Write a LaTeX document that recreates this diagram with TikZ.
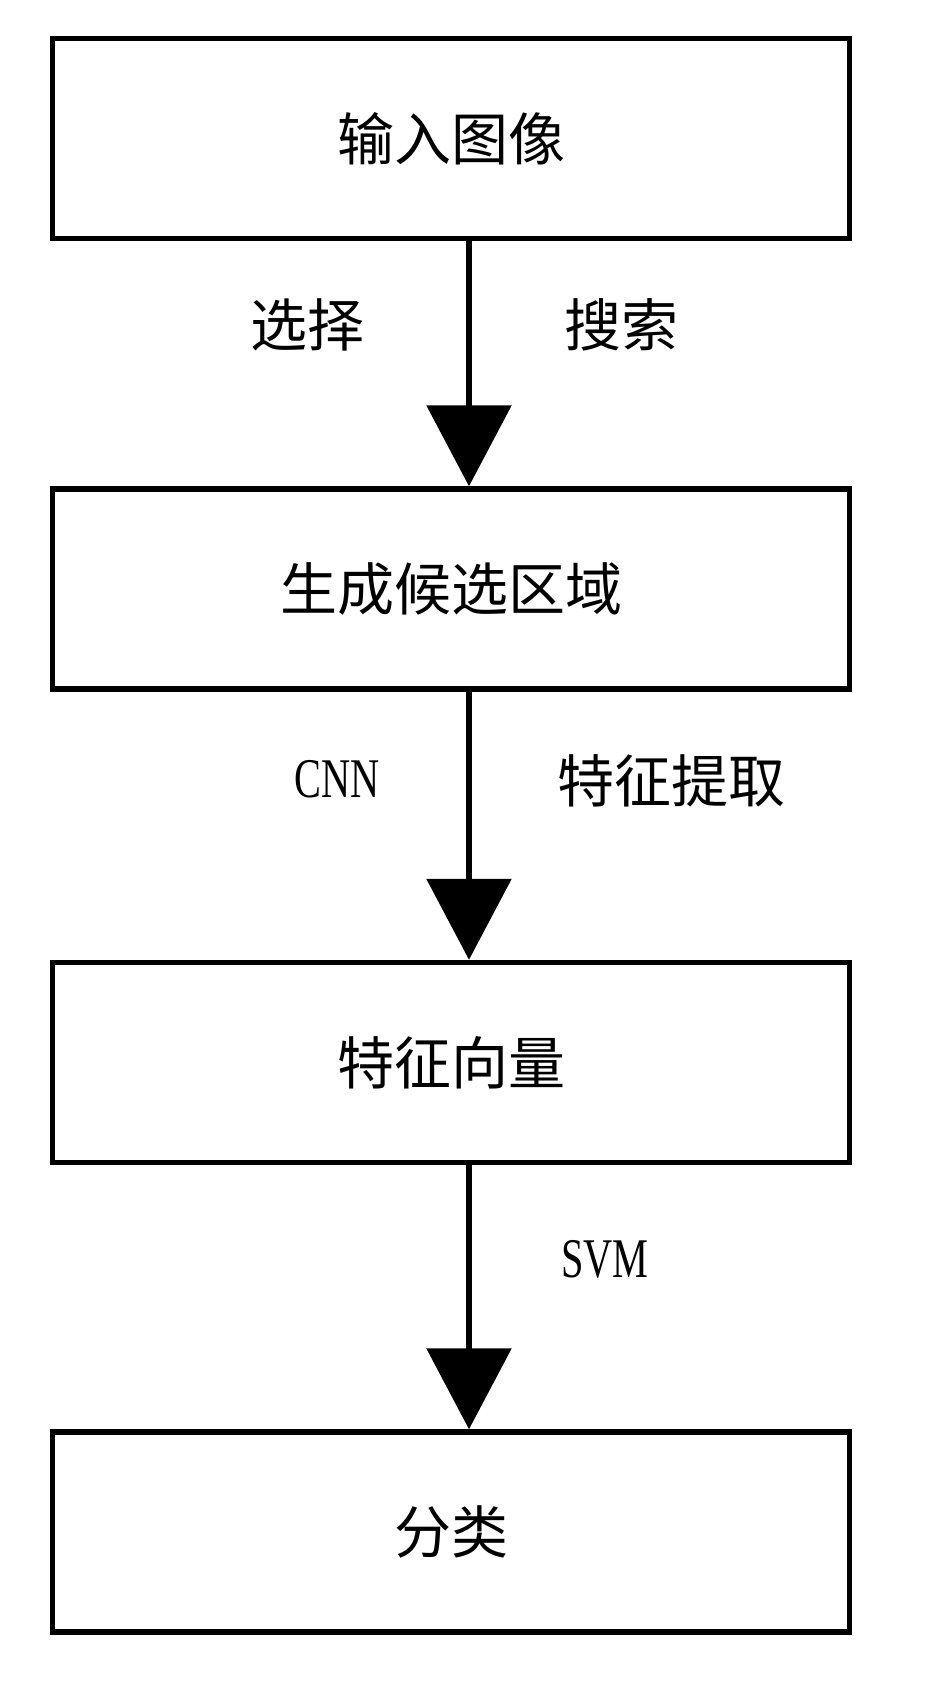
\documentclass[tikz,border=0pt]{standalone}
\usepackage{fontspec}
\newfontfamily\cjk{Noto Sans CJK SC}
\newfontfamily\narrowserif[FakeStretch=0.72]{Liberation Serif}
\usetikzlibrary{arrows.meta}

\tikzset{
  stage/.style={draw, line width=5.5pt, minimum width=797pt, minimum height=200pt,
    inner sep=0pt, font=\cjk\fontsize{57}{60}\selectfont},
  flow/.style={line width=6pt, -{Triangle[width=84pt,length=81pt]}},
  tag/.style={font=\cjk\fontsize{57}{60}\selectfont},
  abbr/.style={font=\narrowserif\fontsize{56}{60}\selectfont}
}

\begin{document}
\begin{tikzpicture}[x=1pt,y=-1pt]
        \useasboundingbox (0,0) rectangle (945,1701);

        \node[stage] (input) at (451,138.5) {输入图像};
        \node[stage] (region) at (451,589) {生成候选区域};
        \node[stage] (vector) at (451,1062.5) {特征向量};
        \node[stage] (classify) at (451,1532) {分类};
        \coordinate (axis) at (469,0);

        \draw[flow] (input.south -| axis) -- (region.north -| axis);
        \draw[flow] (region.south -| axis) -- (vector.north -| axis);
        \draw[flow] (vector.south -| axis) -- (classify.north -| axis);

        \node[tag] (select) at (307,325) {选择};
        \node[tag] (search) at (621,325) {搜索};
        \node[abbr] (cnn) at (337,779) {CNN};
        \node[tag] (extract) at (671,781) {特征提取};
        \node[abbr] (svm) at (605,1259) {SVM};
    \end{tikzpicture}
\end{document}
